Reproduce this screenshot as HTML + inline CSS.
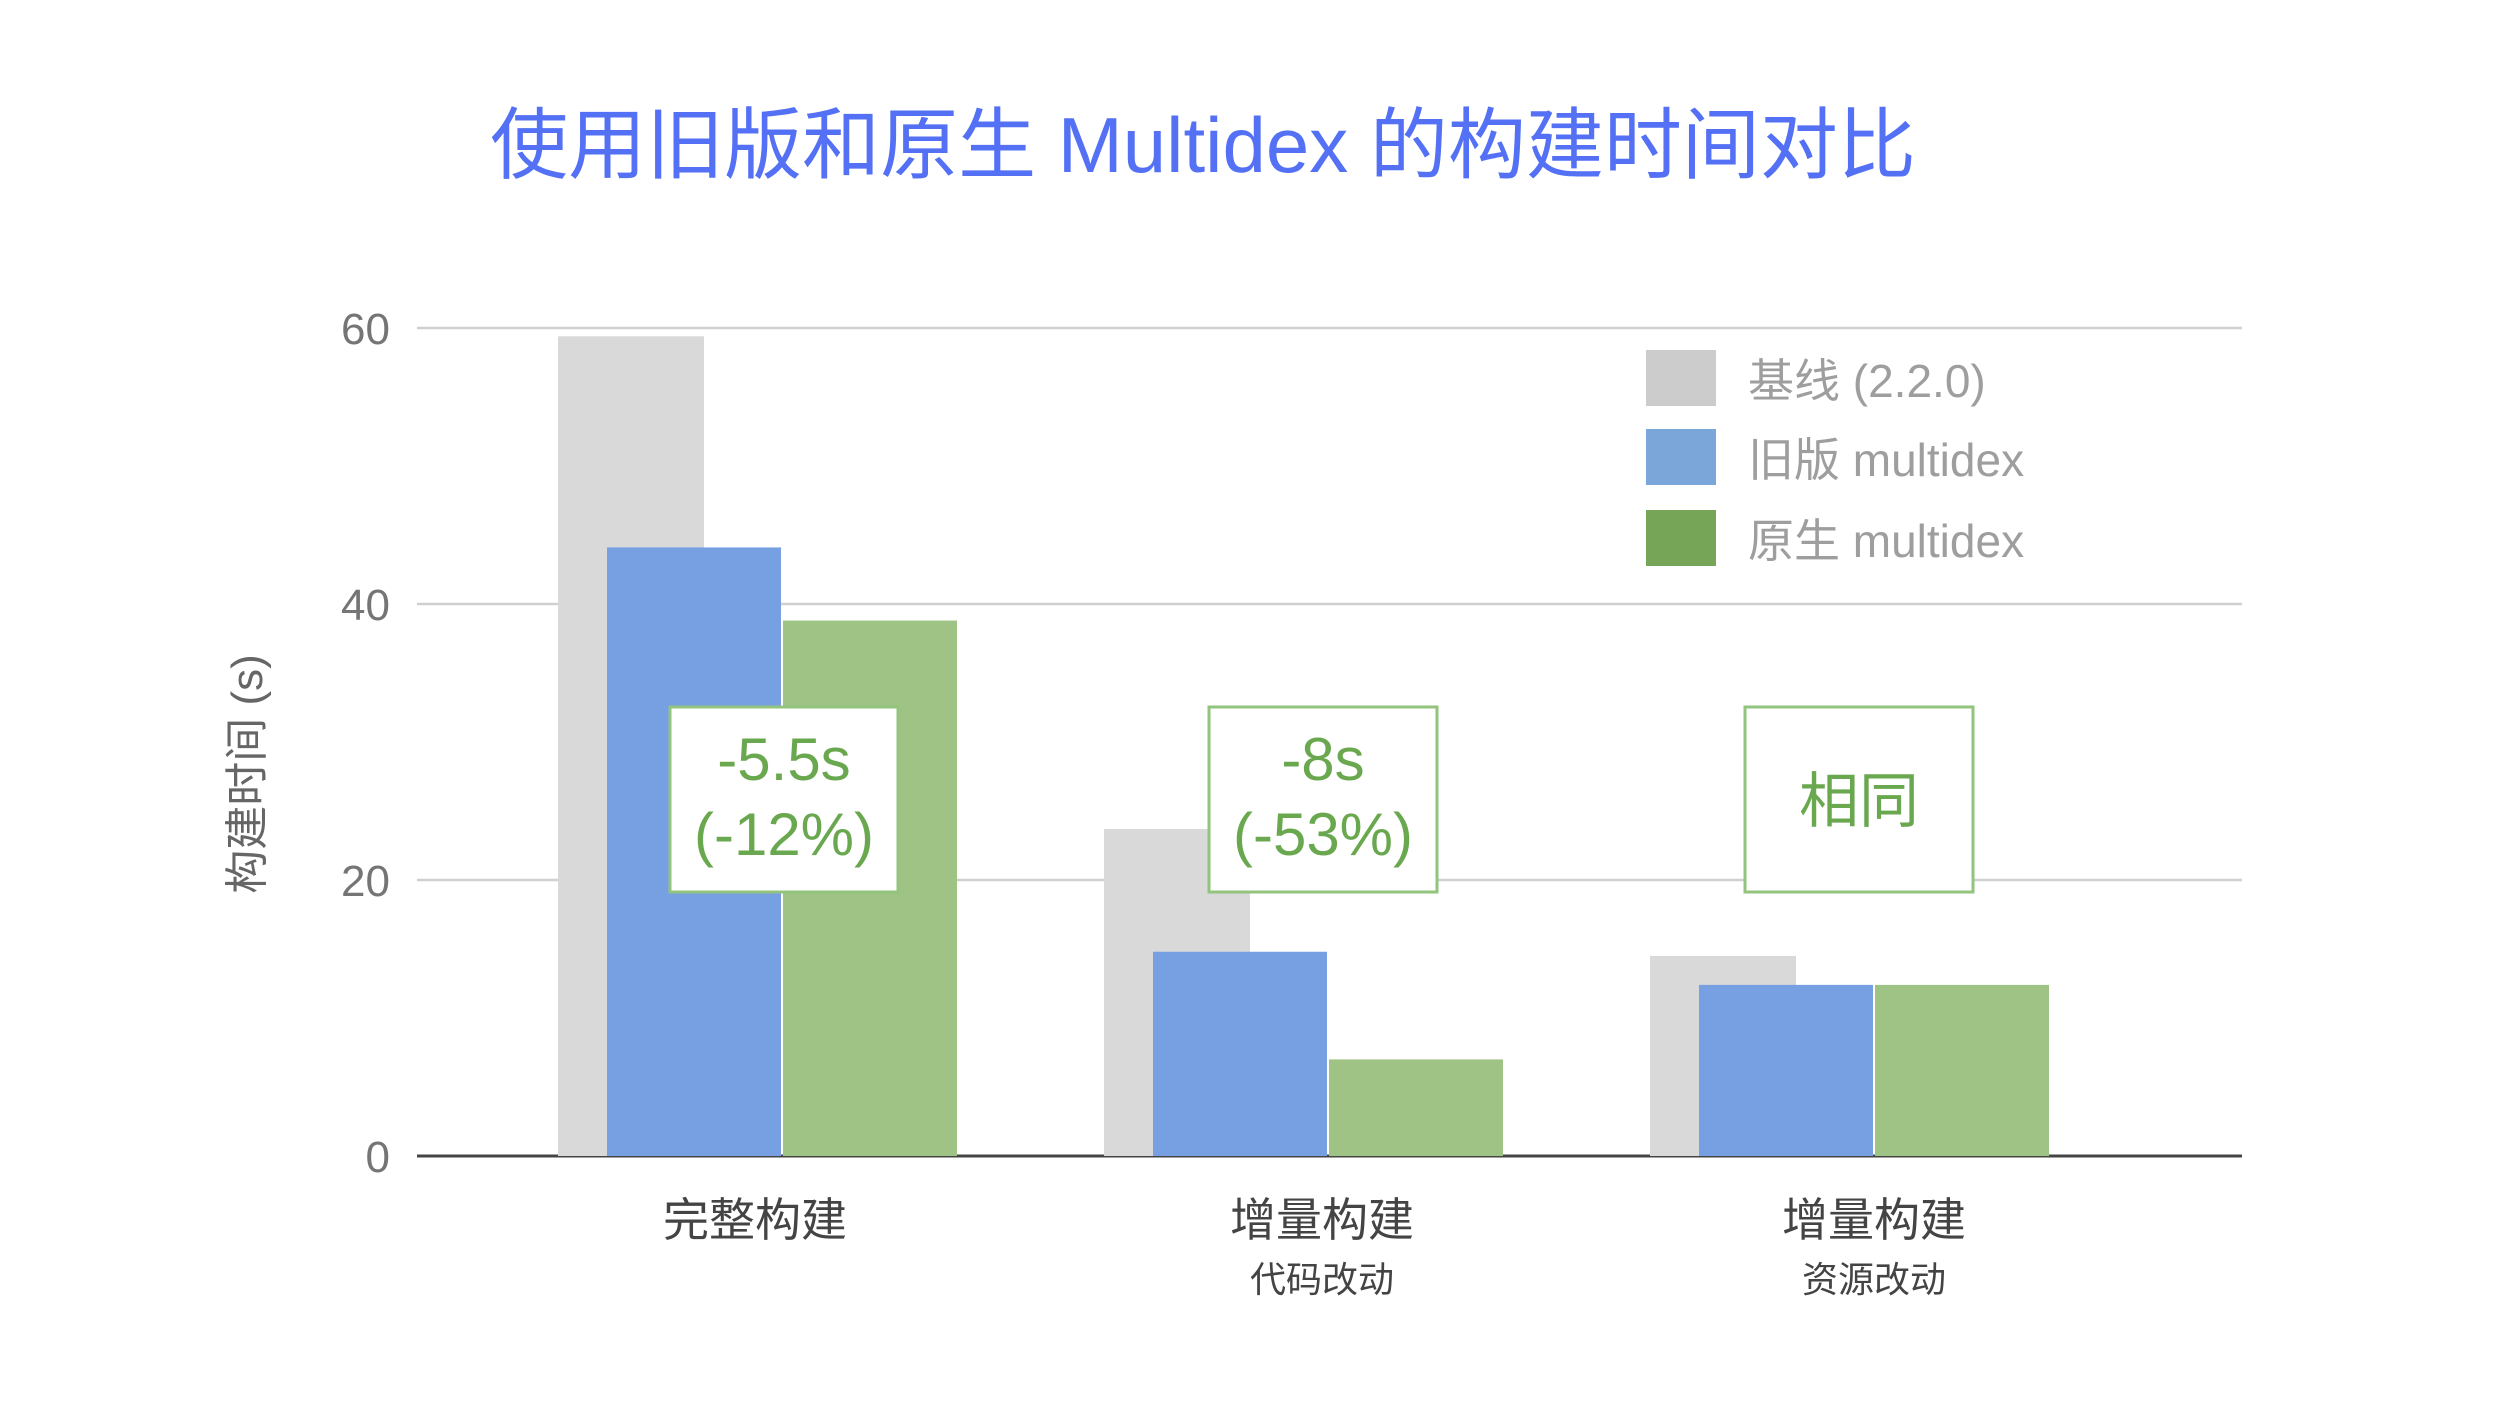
<!DOCTYPE html>
<html><head><meta charset="utf-8"><style>
html,body{margin:0;padding:0;background:#fff;}
body{width:2500px;height:1401px;overflow:hidden;font-family:"Liberation Sans","Noto Sans CJK SC",sans-serif;}
</style></head><body>
<svg id="chart" width="2500" height="1401" viewBox="0 0 2500 1401" xmlns="http://www.w3.org/2000/svg" style="font-family:'Liberation Sans','Noto Sans CJK SC',sans-serif">
<text x="1203" y="172" text-anchor="middle" font-size="78" fill="#5470f5">使用旧版和原生 Multidex 的构建时间对比</text>
<g id="grid"></g><g id="bars"></g><g id="labels"></g><g id="notes"></g>
<text transform="translate(262,774) rotate(-90)" text-anchor="middle" font-size="44" fill="#666">构建时间 (s)</text>
<g>
<rect x="1646" y="350" width="70" height="56" fill="#cccccc"/>
<text x="1748" y="397" font-size="46" fill="#9e9e9e">基线 (2.2.0)</text>
<rect x="1646" y="429" width="70" height="56" fill="#7aa6da"/>
<text x="1748" y="476" font-size="46" fill="#9e9e9e">旧版 multidex</text>
<rect x="1646" y="510" width="70" height="56" fill="#77a557"/>
<text x="1748" y="557" font-size="46" fill="#9e9e9e">原生 multidex</text>
</g>
</svg>
<script>
const categories = ["完整构建", "增量构建", "增量构建"];
const subLabels = ["", "代码改动", "资源改动"];
const baseline = [59.4, 23.7, 14.5];
const legacy = [44.1, 14.8, 12.4];
const native = [38.8, 7.0, 12.4];
const yTicks = [0, 20, 40, 60];
const notes = [["-5.5s", "(-12%)"], ["-8s", "(-53%)"], ["相同"]];

const NS = "http://www.w3.org/2000/svg";
const x0 = 417, x1 = 2242, yBase = 1156, pxPerUnit = 13.8;
const y = v => yBase - v * pxPerUnit;
const groupX = i => 558 + i * 546;
const labelOff = [197, 218, 224];
function mk(tag, attrs, parent){const e=document.createElementNS(NS,tag);for(const k in attrs)e.setAttribute(k,attrs[k]);parent.appendChild(e);return e;}
const grid = document.getElementById('grid'), bars = document.getElementById('bars'), labels = document.getElementById('labels'), notesG = document.getElementById('notes');
yTicks.forEach(t => {
  const l = mk('line', {x1:x0, x2:x1, y1:y(t), y2:y(t), stroke: t===0?'#444':'#d0d0d0', 'stroke-width': t===0?3:2.5}, grid);
  
  
  const tx = mk('text', {x:390, y:y(t)+16, 'text-anchor':'end', 'font-size':44, fill:'#757575'}, grid);
  tx.textContent = t;
  
  
});
categories.forEach((c, i) => {
  const gx = groupX(i);
  const specs = [[baseline[i], gx, 146, '#d9d9d9', 'baseline'], [legacy[i], gx+49, 174, '#77a0e3', 'legacy'], [native[i], gx+225, 174, '#9fc384', 'native']];
  specs.forEach(s => {
    const r = mk('rect', {x:s[1], y:y(s[0]), width:s[2], height:yBase-y(s[0]), fill:s[3]}, bars);
    
    
  });
  const cx = gx + labelOff[i];
  const t = mk('text', {x:cx, y:1236, 'text-anchor':'middle', 'font-size':46, fill:'#444'}, labels);
  t.textContent = c;
  
  
  if (subLabels[i]) {
    const s = mk('text', {x:cx, y:1292, 'text-anchor':'middle', 'font-size':36, fill:'#444'}, labels);
    s.textContent = subLabels[i];
    
    
  }
  const bx = [670, 1209, 1745][i];
  const box = mk('rect', {x:bx, y:707, width:228, height:185, fill:'#fff', stroke:'#93c47d', 'stroke-width':3}, notesG);
  
  
  const lines = notes[i];
  lines.forEach((ln, k) => {
    const ty = lines.length === 1 ? 822 : 780 + k*75;
    const nt = mk('text', {x:bx+114, y:ty, 'text-anchor':'middle', 'font-size':60, fill:'#6aa84f'}, notesG);
    nt.textContent = ln;
    
    
  });
});
</script>
</body></html>
